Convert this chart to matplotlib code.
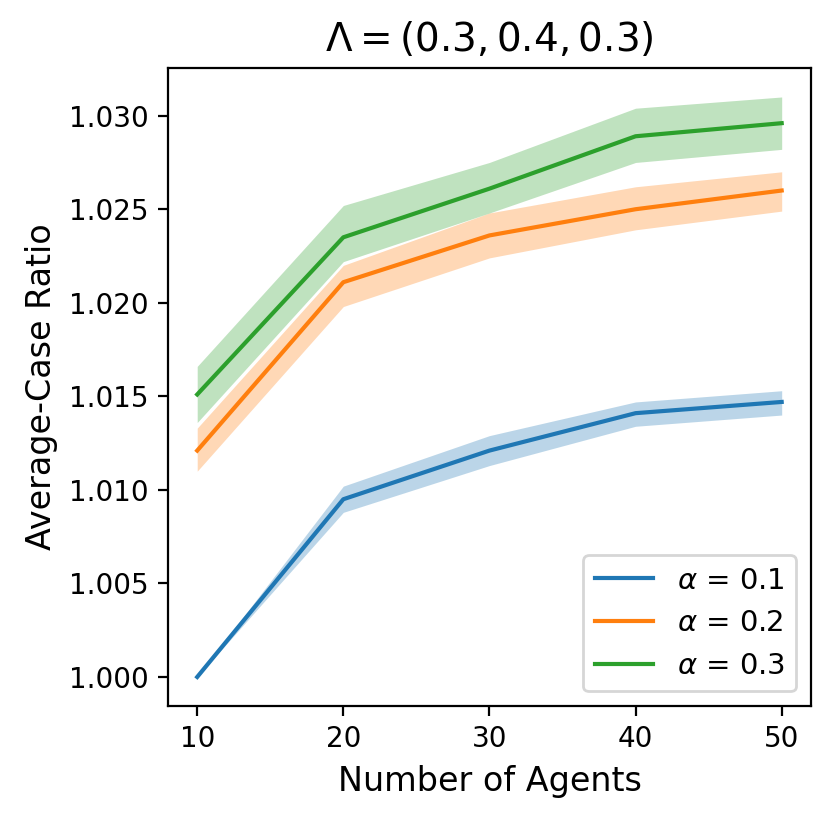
import numpy as np
import matplotlib
matplotlib.use("Agg")
import matplotlib.pyplot as plt

# number of agents
agents = [10, 20, 30, 40, 50]

# mean ratios and band limits
alpha_labels = [r"$\alpha$ = 0.1", r"$\alpha$ = 0.2", r"$\alpha$ = 0.3"]

mean_01 = [1.0000, 1.0095, 1.0121, 1.0141, 1.0147]
low_01 = [1.0000, 1.0088, 1.0113, 1.0134, 1.0140]
high_01 = [1.0000, 1.0102, 1.0129, 1.0147, 1.0153]

mean_02 = [1.0121, 1.0211, 1.0236, 1.0250, 1.0260]
low_02 = [1.0110, 1.0198, 1.0224, 1.0239, 1.0249]
high_02 = [1.0133, 1.0220, 1.0248, 1.0262, 1.0270]

mean_03 = [1.0151, 1.0235, 1.0261, 1.0289, 1.0296]
low_03 = [1.0136, 1.0222, 1.0248, 1.0275, 1.0282]
high_03 = [1.0166, 1.0252, 1.0275, 1.0304, 1.0310]

means = [mean_01, mean_02, mean_03]
lows = [low_01, low_02, low_03]
highs = [high_01, high_02, high_03]

fig = plt.figure(figsize=(4.15, 4.095), dpi=200)
ax = fig.add_subplot(111)
for m, lo, hi, lab in zip(means, lows, highs, alpha_labels):
    line, = ax.plot(agents, m, linewidth=1.5, label=lab)
    ax.fill_between(agents, lo, hi, color=line.get_color(), alpha=0.3, linewidth=0)

ax.set_xticks(agents)
ax.tick_params(labelsize=10)
ax.set_xlabel("Number of Agents", fontsize=12)
ax.set_ylabel("Average-Case Ratio", fontsize=12)
ax.set_title(r"$\Lambda = (0.3, 0.4, 0.3)$", fontsize=14)
ax.legend(loc="lower right", fontsize=10.5)
fig.subplots_adjust(left=0.2024, right=0.977, top=0.917, bottom=0.138)
fig.savefig("out.png", dpi=200)
